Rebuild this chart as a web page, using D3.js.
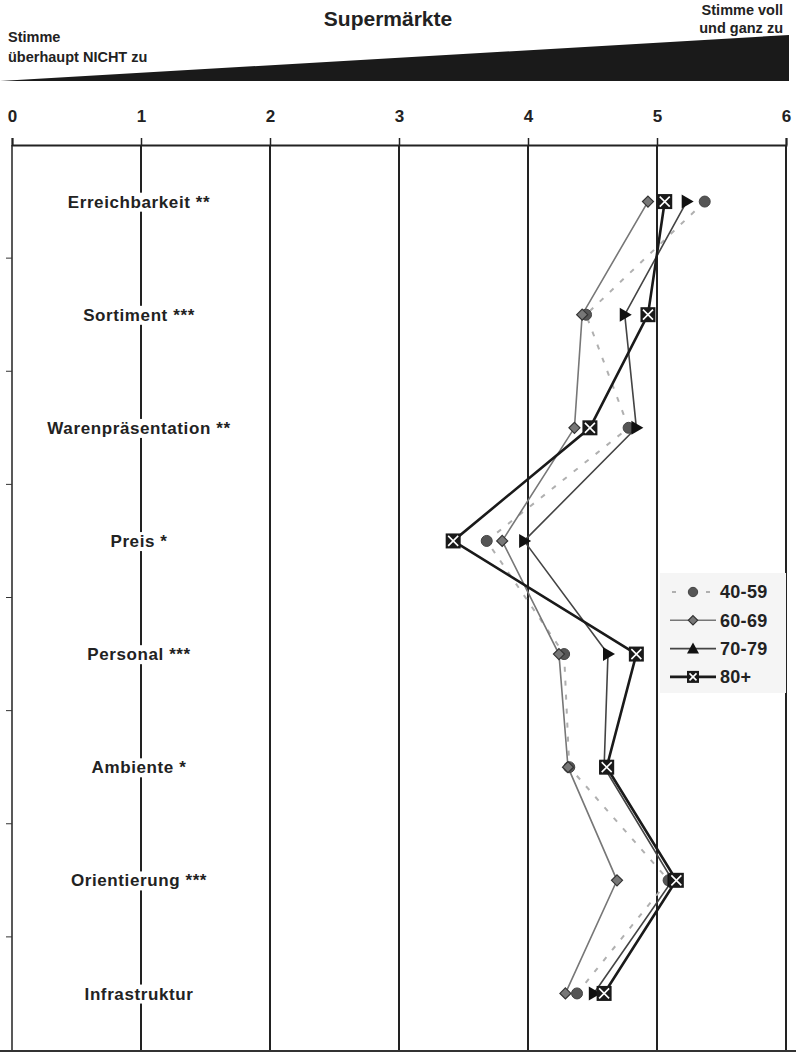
<!DOCTYPE html>
<html>
<head>
<meta charset="utf-8">
<script src="https://cdn.jsdelivr.net/npm/d3@7"></script>
<style>
  body{margin:0;background:#fff;}
  svg{display:block;font-family:"Liberation Sans",Arial,sans-serif;}
</style>
</head>
<body>
<div id="chart"></div>
<script>
var categories=['Erreichbarkeit **','Sortiment ***','Warenpräsentation **','Preis *','Personal ***','Ambiente *','Orientierung ***','Infrastruktur'];
var groups=['40-59','60-69','70-79','80+'];
var v4059=[5.37,4.45,4.78,3.68,4.28,4.32,5.09,4.38];
var v6069=[4.93,4.42,4.36,3.80,4.24,4.31,4.69,4.29];
var v7079=[5.23,4.75,4.84,3.97,4.62,4.59,5.12,4.51];
var v80=[5.06,4.93,4.48,3.42,4.84,4.61,5.15,4.59];
var xTicks=[0,1,2,3,4,5,6];

var width=796,height=1053;
var svg=d3.select("#chart").append("svg").attr("width",width).attr("height",height);

var x=d3.scaleLinear().domain([0,6]).range([12,786]);
var y=d3.scaleBand().domain(categories).range([145,1050]);

// header wedge
svg.append("path")
   .attr("d","M0,81 L789,35 L789,81 Z")
   .attr("fill","#1a1a1a");
svg.append("text").text("Supermärkte")
   .attr("x",388).attr("y",26).attr("text-anchor","middle")
   .style("font-size","21px").style("font-weight","bold").attr("fill","#222");
svg.append("text").text("Stimme").attr("x",8).attr("y",42)
   .style("font-size","14.5px").style("font-weight","bold").attr("fill","#222");
svg.append("text").text("überhaupt NICHT zu").attr("x",8).attr("y",62)
   .style("font-size","14.5px").style("font-weight","bold").attr("fill","#222");
svg.append("text").text("Stimme voll").attr("x",783).attr("y",15).attr("text-anchor","end")
   .style("font-size","14.5px").style("font-weight","bold").attr("fill","#222");
svg.append("text").text("und ganz zu").attr("x",783).attr("y",33).attr("text-anchor","end")
   .style("font-size","14.5px").style("font-weight","bold").attr("fill","#222");

// top axis
var xAxis=d3.axisTop(x).tickValues(xTicks).tickSize(7).tickPadding(16).tickFormat(d3.format("d"));
var gx=svg.append("g").attr("transform","translate(0,145)").call(xAxis);
gx.select(".domain").attr("stroke","#222").attr("stroke-width",2);
gx.selectAll(".tick line").attr("stroke","#222").attr("stroke-width",1.5);
gx.selectAll(".tick text").style("font-size","17px").style("font-weight","bold")
  .style("font-family","'Liberation Sans',Arial,sans-serif").attr("fill","#222");

// vertical grid lines
svg.append("g").selectAll("line").data(xTicks).enter().append("line")
   .attr("x1",function(d){return x(d);}).attr("x2",function(d){return x(d);})
   .attr("y1",145).attr("y2",1052)
   .attr("stroke","#222").attr("stroke-width",function(d){return d==0?1.5:2;});

// bottom line
svg.append("line").attr("x1",0).attr("x2",796).attr("y1",1051).attr("y2",1051)
   .attr("stroke","#333").attr("stroke-width",2);

// left ticks between categories
svg.append("g").selectAll("line").data(categories.slice(1)).enter().append("line")
   .attr("x1",6).attr("x2",12)
   .attr("y1",function(d){return y(d);}).attr("y2",function(d){return y(d);})
   .attr("stroke","#333").attr("stroke-width",1);

// category labels with white background
var labs=svg.append("g").selectAll("g").data(categories).enter().append("g")
   .attr("transform",function(d){return "translate(139,"+(y(d)+y.bandwidth()/2)+")";});
labs.append("text").text(function(d){return d;})
   .attr("text-anchor","middle").attr("dy","0.36em")
   .style("font-size","17px").style("font-weight","bold").style("letter-spacing","0.6px").attr("fill","#222");
labs.each(function(){
   var g=d3.select(this), bb=g.select("text").node().getBBox();
   g.insert("rect","text").attr("x",bb.x-3).attr("y",bb.y).attr("width",bb.width+6).attr("height",bb.height).attr("fill","#fff");
});

var cy=function(i){return y(categories[i])+y.bandwidth()/2;};
var line=d3.line().x(function(d){return x(d);}).y(function(d,i){return cy(i);});

function marker(g,type,big){
  var s=big?1:0.85;
  if(type=="circle"){
    g.append("circle").attr("r",5.5*s).attr("fill","#555").attr("stroke","#444");
  } else if(type=="diamond"){
    var r=5.5*s;
    g.append("path").attr("d","M0,"+(-r)+"L"+r+",0L0,"+r+"L"+(-r)+",0Z")
     .attr("fill","#777").attr("stroke","#333").attr("stroke-width",1.2);
  } else if(type=="triR"){
    g.append("path").attr("d","M-5,-7L7,0L-5,7Z").attr("fill","#111");
  } else if(type=="triU"){
    g.append("path").attr("d","M0,-6L6,5L-6,5Z").attr("fill","#111");
  } else if(type=="square"){
    var h=big?7.5:6;
    g.append("rect").attr("x",-h).attr("y",-h).attr("width",2*h).attr("height",2*h).attr("fill","#1a1a1a");
    var k=h-2.5;
    g.append("path").attr("d","M"+(-k)+","+(-k)+"L"+k+","+k+"M"+k+","+(-k)+"L"+(-k)+","+k)
     .attr("stroke","#fff").attr("stroke-width",1.6);
  }
}

var series=[
  {name:groups[0],values:v4059,color:"#b0b0b0",width:2,dash:"5,9",mark:"circle"},
  {name:groups[1],values:v6069,color:"#777",width:1.6,dash:null,mark:"diamond"},
  {name:groups[2],values:v7079,color:"#444",width:1.6,dash:null,mark:"triR"},
  {name:groups[3],values:v80,color:"#1a1a1a",width:2.6,dash:null,mark:"square"}
];

series.forEach(function(s){
  svg.append("path").datum(s.values).attr("d",line)
     .attr("fill","none").attr("stroke",s.color).attr("stroke-width",s.width)
     .attr("stroke-dasharray",s.dash);
});
series.forEach(function(s){
  svg.append("g").selectAll("g").data(s.values).enter().append("g")
     .attr("transform",function(d,i){return "translate("+x(d)+","+cy(i)+")";})
     .each(function(){marker(d3.select(this),s.mark,true);});
});

// legend
var lg=svg.append("g").attr("transform","translate(659,573)");
lg.append("rect").attr("x",1).attr("y",0).attr("width",126).attr("height",120).attr("fill","#f5f5f5");
series.forEach(function(s,i){
  var row=lg.append("g").attr("transform","translate(0,"+(19+i*28.3)+")");
  row.append("line").attr("x1",11).attr("x2",57).attr("y1",0).attr("y2",0)
     .attr("stroke",s.color).attr("stroke-width",s.width).attr("stroke-dasharray",s.dash?"4,13":null)
     .attr("stroke-dashoffset",s.dash?-2:null);
  var m=row.append("g").attr("transform","translate(34,0)");
  marker(m,s.mark=="triR"?"triU":s.mark,false);
  row.append("text").text(s.name).attr("x",61).attr("dy","0.36em")
     .style("font-size","18px").style("font-weight","bold").style("letter-spacing","0.3px").attr("fill","#222");
});
</script>
</body>
</html>
